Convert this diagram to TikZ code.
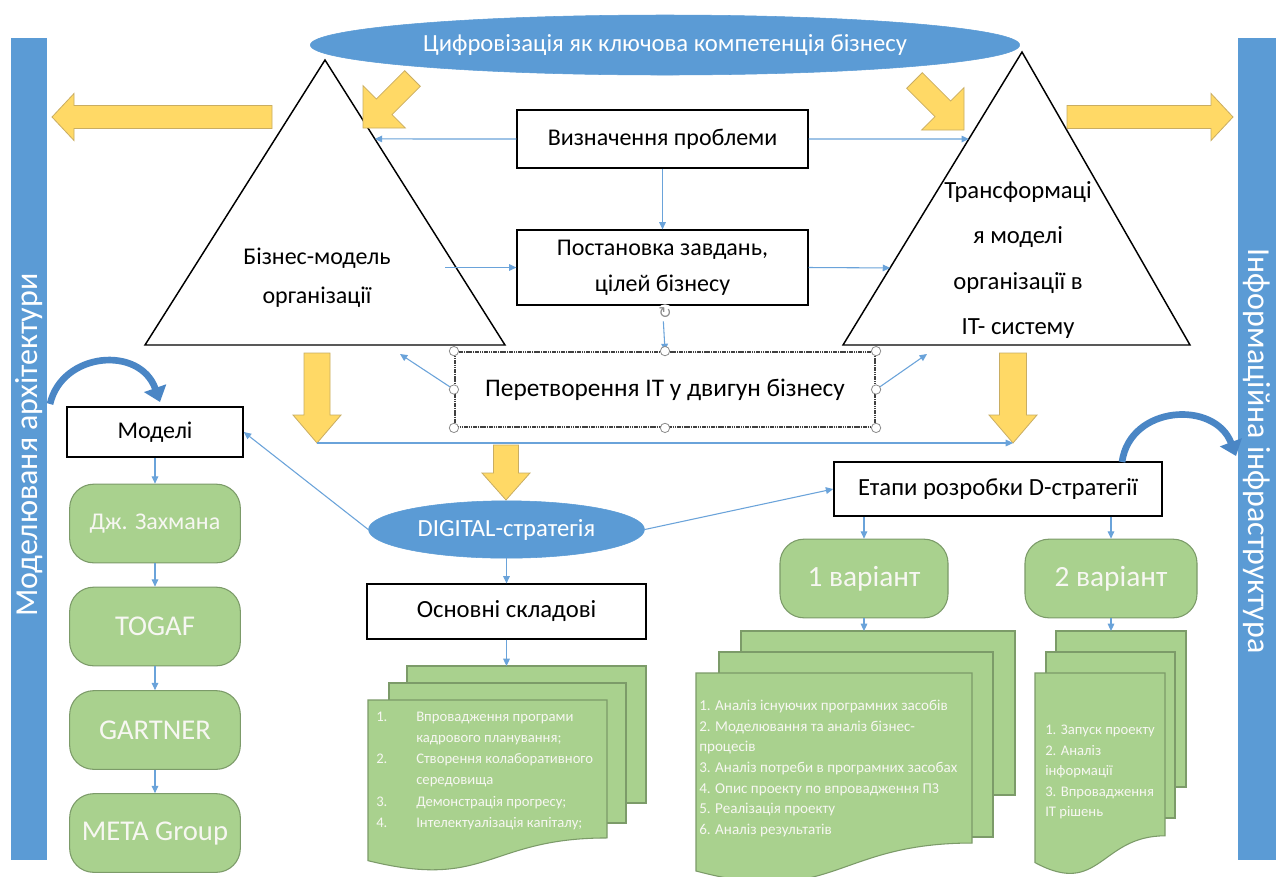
\documentclass[tikz,border=0pt]{standalone}
\usepackage{fontspec}
\setmainfont{Carlito}
\newfontfamily\dvsym{DejaVu Sans}
\usetikzlibrary{arrows.meta,shapes.geometric,calc}
\definecolor{barblue}{HTML}{5B9BD5}
\definecolor{lineblue}{HTML}{6AA3DA}
\definecolor{arcblue}{HTML}{4A86C5}
\definecolor{yfill}{HTML}{FFD966}
\definecolor{yedge}{HTML}{C9AD62}
\definecolor{gfill}{HTML}{A9D18E}
\definecolor{gedge}{HTML}{7C9B69}
\definecolor{handlegray}{HTML}{8C8C8C}
\definecolor{softwhite}{HTML}{F7F7F2}

% yellow block arrow pointing down: centre x, top, head base, tip, shaft half width, head half width
\newcommand\ydownarrow[6]{%
  \draw[yarrow] (#1-#5,#2) -- (#1+#5,#2) -- (#1+#5,#3) -- (#1+#6,#3) -- (#1,#4)
    -- (#1-#6,#3) -- (#1-#5,#3) -- cycle;}
% rear sheet of a multi-document stack
\newcommand\docback[4]{\draw[sheet] (#1,#2) rectangle (#3,#4);}
% front sheet with the wavy lower edge: left, top, right, height
\newcommand\docfront[4]{%
  \draw[sheet] (#1,#2) -- (#3,#2) -- (#3,#2+0.802*#4)
    .. controls ({(#1+#3)/2},#2+0.802*#4) and ({(#1+#3)/2},#2+1.107*#4) .. (#1,#2+0.934*#4) -- cycle;}

\begin{document}
\begin{tikzpicture}[x=0.75pt, y={(0pt,-0.75pt)},
  box/.style={draw=black, line width=1.2pt, fill=white, inner sep=0pt, align=center,
    font=\fontsize{18}{27}\selectfont},
  pill/.style={draw=gedge, line width=0.8pt, fill=gfill, rounded corners=18pt, inner sep=0pt,
    text=softwhite, minimum width=128pt, minimum height=59pt, font=\fontsize{18}{22}\selectfont},
  blueoval/.style={ellipse, fill=barblue, draw=barblue, inner sep=0pt, text=white},
  conn/.style={draw=lineblue, line width=0.8pt, -{Triangle[length=5.5pt,width=5pt]}},
  yarrow/.style={fill=yfill, draw=yedge, line width=0.6pt},
  sheet/.style={fill=gfill, draw=gedge, line width=0.8pt},
  tri/.style={draw=black, line width=1.1pt, fill=white},
  handle/.style={circle, draw=handlegray, fill=white, line width=0.6pt, inner sep=0pt, minimum size=7pt},
  arcarrow/.style={draw=arcblue, line width=5pt, -{Triangle[length=11pt,width=17pt]}},
  doctext/.style={text=softwhite, align=left, inner sep=0pt, anchor=west}
]
\useasboundingbox (0,0) rectangle (1281,876);
\fill[white] (0,0) rectangle (1281,876);
\clip (0,0) rectangle (1281,876);

% side bars
\fill[barblue] (11,38) rectangle (47,860);
\fill[barblue] (1238,38) rectangle (1276,860);
\node[rotate=90, text=white, font=\fontsize{24}{28}\selectfont] (sideL) at (29,445) {Моделюваня архітектури};
\node[rotate=-90, text=white, font=\fontsize{24}{28}\selectfont] (sideR) at (1257,451) {Інформаційна інфраструктура};

% top oval
\node[blueoval, minimum width=532pt, minimum height=45pt, font=\fontsize{18.5}{22}\selectfont] (top) at (665,45)
  {Цифровізація як ключова компетенція бізнесу};

% triangles
\coordinate (LA) at (325,60); \coordinate (LL) at (145,345); \coordinate (LR) at (505,345);
\coordinate (RA) at (1022,52); \coordinate (RL) at (843,345); \coordinate (RR) at (1190,345);
\draw[tri] (LA) -- (LL) -- (LR) -- cycle;
\draw[tri] (RA) -- (RL) -- (RR) -- cycle;
\node[align=center, font=\fontsize{18}{29}\selectfont] (tL) at (317,278) {Бізнес-модель\\організації};
\node[align=center, font=\fontsize{18.5}{34}\selectfont] (tR) at (1018,260)
  {Трансформаці\\я моделі\\організації в\\IT- систему};

% yellow block arrows
\draw[yarrow] (272,105.5) -- (74,105.5) -- (74,93.5) -- (52,117) -- (74,140.5) -- (74,128.5) -- (272,128.5) -- cycle;
\draw[yarrow] (1067,105.5) -- (1211,105.5) -- (1211,93.5) -- (1233,117) -- (1211,140.5) -- (1211,128.5) -- (1067,128.5) -- cycle;
\draw[yarrow] (404.7,70.7) -- (376.4,99) -- (363,85.6) -- (363,128) -- (405.4,128) -- (392,114.6) -- (420.3,86.3) -- cycle;
\draw[yarrow] (922.3,72.7) -- (950.6,101) -- (964,87.6) -- (964,130) -- (921.6,130) -- (935,116.6) -- (906.7,88.3) -- cycle;
\ydownarrow{317}{353}{415}{443}{13}{24}
\ydownarrow{1013}{353}{415}{443}{13.5}{24}
\ydownarrow{506}{445}{473}{500}{12.5}{24}
\coordinate (ytipL) at (317,443);
\coordinate (ytipR) at (1013,443);

% central boxes
\node[box, minimum width=218pt, minimum height=43.5pt] (vyzn) at (662.5,139) {Визначення проблеми};
\node[box, minimum width=218pt, minimum height=56pt] (post) at (662.5,267.5) {Постановка завдань,\\цілей бізнесу};
\node[box, draw=black!75, line width=1.6pt, dash pattern=on 1.2pt off 0.5pt,
  minimum width=315pt, minimum height=56pt, font=\fontsize{19}{22}\selectfont] (pere) at (665,389.5)
  {Перетворення IT у двигун бізнесу};
\node[box, minimum width=132pt, minimum height=37.5pt, font=\fontsize{18}{22}\selectfont] (modeli) at (155,432) {Моделі};
\node[box, minimum width=246pt, minimum height=40.5pt, font=\fontsize{18.5}{22}\selectfont] (etapy) at (998,489) {Етапи розробки D-стратегії};
\node[blueoval, minimum width=207pt, minimum height=43pt, font=\fontsize{18.5}{22}\selectfont] (dig) at (506.5,529.5) {DIGITAL-стратегія};
\node[box, minimum width=209pt, minimum height=41pt, font=\fontsize{18.5}{22}\selectfont] (osn) at (506.5,611.5) {Основні складові};

% model column
\node[pill] (dz) at (155,523.5) {Дж. Захмана};
\node[pill, font=\fontsize{21.5}{24}\selectfont] (togaf) at (155,626.5) {TOGAF};
\node[pill, font=\fontsize{21.5}{24}\selectfont] (gart) at (155,730) {GARTNER};
\node[pill, font=\fontsize{21.5}{24}\selectfont] (meta) at (155,833) {META Group};

% variants
\node[pill, minimum width=126pt, font=\fontsize{22}{24}\selectfont] (v1) at (864,578.5) {1 варіант};
\node[pill, minimum width=129pt, font=\fontsize{22}{24}\selectfont] (v2) at (1111,578.5) {2 варіант};

% document stacks
\docback{407}{666}{646}{803}
\docback{389}{683}{626}{823}
\docfront{368}{700}{607}{172}
\docback{741}{631}{1015}{795}
\docback{719}{652}{993}{837}
\docfront{696}{673}{972}{212}
\docback{1056}{631}{1186}{787}
\docback{1046}{652}{1175}{818}
\docfront{1035}{673}{1165}{203}
\coordinate (docA) at (506.5,666);
\coordinate (docB) at (864,631);
\coordinate (docC) at (1111,631);

\node[doctext, font=\fontsize{11}{15.9}\selectfont] (listA) at (376,770) {%
  \begin{tabular}{@{}p{30pt}@{}l@{}}
  1. & Впровадження програми\\
     & кадрового планування;\\
  2. & Створення колаборативного\\
     & середовища\\
  3. & Демонстрація прогресу;\\
  4. & Інтелектуалізація капіталу;
  \end{tabular}};
\node[doctext, font=\fontsize{11.3}{15.4}\selectfont] (listB) at (699,768.5) {%
  1. Аналіз існуючих програмних засобів\\
  2. Моделювання та аналіз бізнес-\\
  процесів\\
  3. Аналіз потреби в програмних засобах\\
  4. Опис проекту по впровадження ПЗ\\
  5. Реалізація проекту\\
  6. Аналіз результатів};
\node[doctext, font=\fontsize{11}{15.4}\selectfont] (listC) at (1045,772) {%
  1. Запуск проекту\\
  2. Аналіз\\
  інформації\\
  3. Впровадження\\
  IT рішень};

% connectors
\coordinate (pL) at ($(LA)!0.277!(LR)$);
\coordinate (pR) at ($(RA)!0.297!(RL)$);
\coordinate (pR2) at ($(RA)!0.737!(RL)$);
\coordinate (sL) at (445,267.5);
\coordinate (qL) at (400,354);
\coordinate (qR) at (927,354);
\draw[conn] (vyzn.west) -- (pL);
\draw[conn] (vyzn.east) -- (pR);
\draw[conn] (vyzn.south) -- (post.north);
\draw[conn] (sL) -- (post.west);
\draw[conn] (post.east) -- (pR2);
\draw[conn] (post.south) -- (pere.north);
\draw[conn] (pere.west) -- (qL);
\draw[conn] (pere.east) -- (qR);
\draw[conn] (ytipL) -- (ytipR);
\draw[conn] (dig.west) -- (modeli.east);
\draw[conn] (dig.east) -- (etapy.west);
\draw[conn] (dig.south) -- (osn.north);
\draw[conn] (osn.south) -- (docA);
\draw[conn] (modeli.south) -- (dz.north);
\draw[conn] (dz.south) -- (togaf.north);
\draw[conn] (togaf.south) -- (gart.north);
\draw[conn] (gart.south) -- (meta.north);
\draw[conn] (etapy.south -| v1) -- (v1.north);
\draw[conn] (etapy.south -| v2) -- (v2.north);
\draw[conn] (v1.south) -- (docB);
\draw[conn] (v2.south) -- (docC);

% curved arrows
\draw[arcarrow] (50,404) .. controls (62,352) and (140,345) .. (160,402);
\draw[arcarrow] (1122,462) .. controls (1130,405) and (1215,400) .. (1236,456);

% selection handles on the transformation box
\node[handle] (h1) at (pere.north west) {};
\node[handle] (h2) at (pere.north) {};
\node[handle] (h3) at (pere.north east) {};
\node[handle] (h4) at (pere.west) {};
\node[handle] (h5) at (pere.east) {};
\node[handle] (h6) at (pere.south west) {};
\node[handle] (h7) at (pere.south) {};
\node[handle] (h8) at (pere.south east) {};
\node[text=handlegray, fill=white, circle, inner sep=0pt, font=\dvsym\fontsize{12}{12}\selectfont] (rot) at (665,313) {↻};
\end{tikzpicture}
\end{document}
